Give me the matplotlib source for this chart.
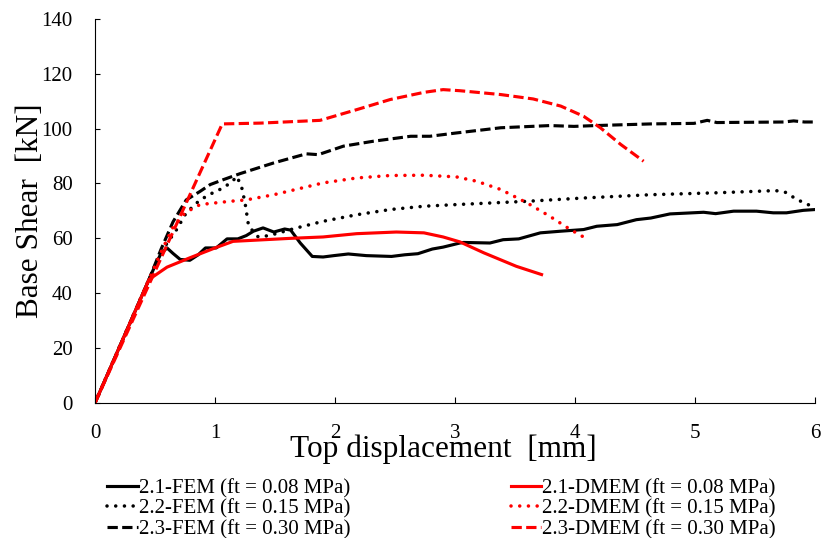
import matplotlib
matplotlib.use("Agg")
import matplotlib.pyplot as plt

plt.rcParams['font.family'] = ['Liberation Serif', 'DejaVu Serif']

# 2.1-FEM (ft = 0.08 MPa)
fem21_x = [0, 0.45, 0.5, 0.55, 0.6, 0.65, 0.71, 0.79, 0.86, 0.92, 1.01, 1.10, 1.19, 1.26, 1.32,
           1.40, 1.49, 1.58, 1.63, 1.71, 1.81, 1.90, 1.99, 2.11, 2.26, 2.47, 2.58, 2.69, 2.81,
           2.90, 3.04, 3.07, 3.29, 3.40, 3.53, 3.71, 3.88, 4.07, 4.18, 4.35, 4.51, 4.63, 4.79,
           5.07, 5.17, 5.32, 5.51, 5.65, 5.76, 5.90, 6.0]
fem21_y = [0, 45, 50, 54.5, 56.5, 54.5, 52.3, 52, 54, 56.5, 56.5, 59.8, 59.8, 61, 62.6,
           63.8, 62.3, 63.4, 63, 58.3, 53.4, 53.2, 53.7, 54.3, 53.7, 53.4, 54, 54.4, 56.1,
           56.8, 58.3, 58.5, 58.3, 59.5, 59.8, 62, 62.6, 63.2, 64.4, 65, 66.8, 67.4, 68.9,
           69.5, 69.0, 69.9, 69.9, 69.3, 69.3, 70.2, 70.5]

# 2.2-FEM (ft = 0.15 MPa)
fem22_x = [0, 0.45, 0.55, 0.68, 0.76, 0.875, 0.99, 1.07, 1.15, 1.18, 1.22, 1.25, 1.28, 1.36,
           1.45, 1.68, 1.90, 2.18, 2.46, 2.74, 3.01, 3.60, 4.07, 4.63, 5.18, 5.67, 5.75, 5.85,
           5.97, 6.0]
fem22_y = [0, 45, 55, 63.2, 69.3, 74, 76.8, 78.4, 81, 82.6, 79, 72.9, 64.4, 60.5,
           61, 63.8, 66.2, 68.6, 70.5, 71.7, 72.3, 73.5, 74.7, 75.9, 76.6, 77.4, 76.8, 74.1,
           71.7, 70.5]

# 2.3-FEM (ft = 0.30 MPa)
fem23_x = [0, 0.45, 0.55, 0.65, 0.76, 0.875, 0.96, 1.07, 1.21, 1.49, 1.76, 1.86, 2.07, 2.32,
           2.63, 2.79, 3.01, 3.38, 3.79, 3.99, 4.17, 4.63, 4.99, 5.10, 5.18, 5.74, 5.82, 5.91, 6.0]
fem23_y = [0, 45, 56, 66, 74, 77.1, 79.6, 81.4, 83.6, 87.5, 90.8, 90.5, 93.6, 95.4,
           97.2, 97.2, 98.4, 100.3, 101.1, 100.8, 101.1, 101.7, 101.9, 103.0, 102.2, 102.4,
           102.8, 102.4, 102.4]

# 2.1-DMEM (ft = 0.08 MPa)
dmem21_x = [0, 0.45, 0.6, 0.79, 1.0, 1.15, 1.63, 1.90, 2.18, 2.51, 2.74, 2.90, 3.04, 3.24, 3.51, 3.72]
dmem21_y = [0, 45, 49.5, 52.9, 56.5, 58.9, 60, 60.5, 61.7, 62.3, 62, 60.5, 58.7, 54.7, 49.8, 46.8]

# 2.2-DMEM (ft = 0.15 MPa)
dmem22_x = [0, 0.45, 0.55, 0.65, 0.75, 0.875, 1.125, 1.26, 1.49, 1.90, 2.18, 2.46, 2.74, 3.01,
            3.18, 3.38, 3.60, 3.79, 3.96, 4.11]
dmem22_y = [0, 45, 55, 64, 69.3, 72.3, 73.5, 74, 75.9, 80.2, 82, 82.9, 83, 82.4,
            80.8, 77.8, 72.9, 68, 63.2, 59.5]

# 2.3-DMEM (ft = 0.30 MPa)
dmem23_x = [0, 1.06, 1.38, 1.875, 2.18, 2.46, 2.74, 2.90, 3.04, 3.38, 3.65, 3.88, 4.07, 4.21, 4.38, 4.57]
dmem23_y = [0, 101.7, 102, 103, 106.9, 110.6, 113.2, 114.2, 113.8, 112.4, 110.8, 108.2, 104.5,
            100.3, 94.2, 88.1]

labels = ['2.1-FEM (ft = 0.08 MPa)', '2.2-FEM (ft = 0.15 MPa)', '2.3-FEM (ft = 0.30 MPa)',
          '2.1-DMEM (ft = 0.08 MPa)', '2.2-DMEM (ft = 0.15 MPa)', '2.3-DMEM (ft = 0.30 MPa)']

fig = plt.figure(figsize=(8.26, 5.38), dpi=100)
ax = fig.add_axes([0.115, 0.251, 0.872, 0.714])

lw = 2.25
dotted = (0, (0.01, 2.45))
dashed = (0, (3.3, 1.4))

ax.plot(fem21_x, fem21_y, color='black', lw=lw, label=labels[0])
ax.plot(fem22_x, fem22_y, color='black', lw=lw + 0.3, ls=dotted, dash_capstyle='round', label=labels[1])
ax.plot(fem23_x, fem23_y, color='black', lw=lw, ls=dashed, label=labels[2])
ax.plot(dmem21_x, dmem21_y, color='red', lw=lw, label=labels[3])
ax.plot(dmem22_x, dmem22_y, color='red', lw=lw + 0.3, ls=dotted, dash_capstyle='round', label=labels[4])
ax.plot(dmem23_x, dmem23_y, color='red', lw=lw, ls=dashed, label=labels[5])

ax.set_xlim(0, 6)
ax.set_ylim(0, 140)
ax.set_xticks(range(0, 7))
ax.set_yticks(range(0, 141, 20))
ax.spines['top'].set_visible(False)
ax.spines['right'].set_visible(False)
for s in ('left', 'bottom'):
    ax.spines[s].set_linewidth(0.8)
ax.tick_params(axis='x', direction='in', length=4, width=0.8, pad=15, labelsize=15)
ax.tick_params(axis='y', direction='in', length=3.5, width=0.8, pad=16, labelsize=15)

# label overlaps the tick labels in the original too
ax.set_xlabel('Top displacement  [mm]', fontsize=22.5, va='baseline')
ax.xaxis.set_label_coords(0.483, -0.1406)
ax.set_ylabel('Base Shear  [kN]', fontsize=22.5)
ax.yaxis.set_label_coords(-0.069, 0.5)

fig.legend(loc='center', bbox_to_anchor=(0.5345, 0.054), ncol=2, frameon=False,
           fontsize=15, handlelength=1.45, handletextpad=0.05, columnspacing=7.7,
           labelspacing=0.05, borderpad=0)

fig.savefig('out.png', dpi=100)
